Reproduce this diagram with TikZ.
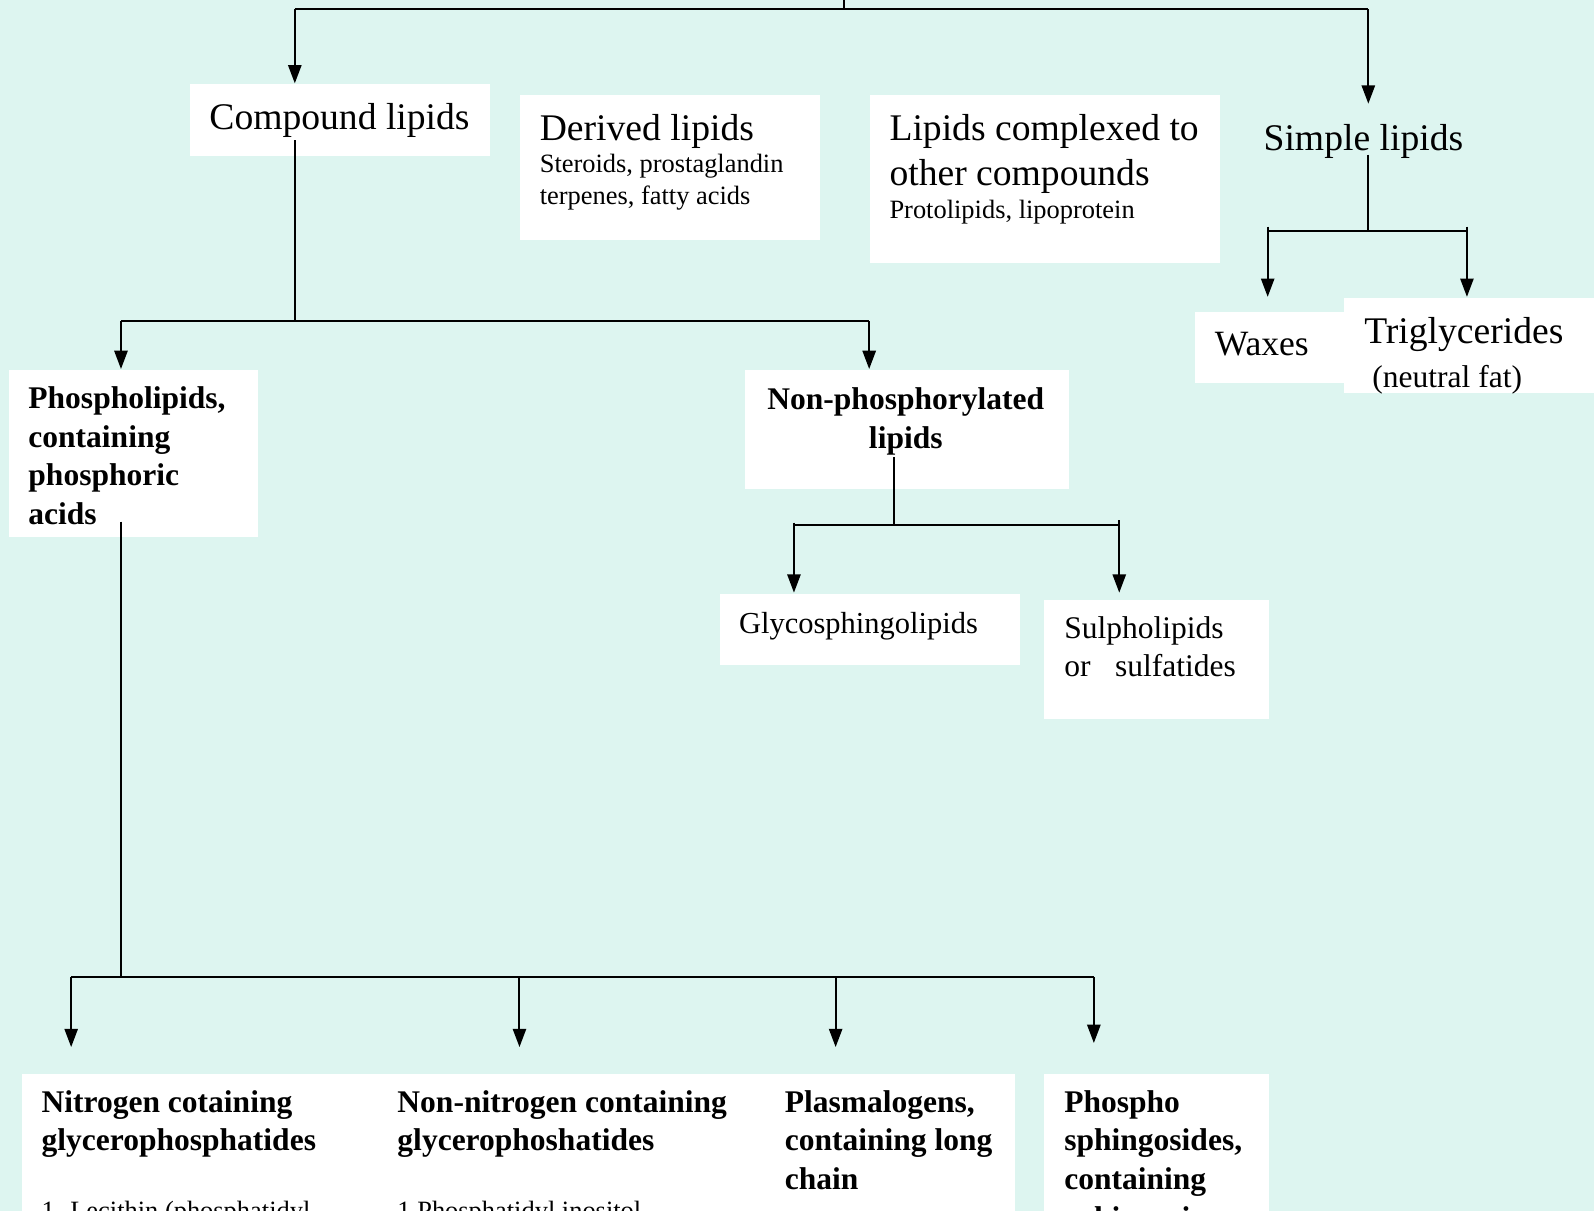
\documentclass[tikz,border=0pt]{standalone}
\usepackage{fontspec}
\setmainfont{Liberation Serif}
\usetikzlibrary{arrows.meta}
\definecolor{bgcyan}{RGB}{221,245,240}

\begin{document}
\begin{tikzpicture}[x=1pt, y=-1pt, line width=2pt,
  box/.style={fill=white, inner sep=0pt, anchor=north west},
  txt/.style={inner sep=0pt, anchor=base west, align=left},
  bigtxt/.style={txt, font=\fontsize{37}{44}\selectfont},
  smalltxt/.style={txt, font=\fontsize{26}{31}\selectfont},
  midtxt/.style={txt, font=\fontsize{31}{37}\selectfont},
  boldtxt/.style={txt, font=\fontsize{31}{38}\selectfont\bfseries},
  arr/.style={-{Triangle[length=18pt, width=13pt]}}]
  \useasboundingbox (0,0) rectangle (1568,1191);
  \fill[bgcyan] (0,0) rectangle (1568,1191);

  % boxes
  \node[box, minimum width=295pt, minimum height=70pt] (compound) at (186,82) {};
  \node[box, minimum width=295pt, minimum height=143pt] (derived) at (511,92) {};
  \node[box, minimum width=344pt, minimum height=166pt] (complexed) at (855,92) {};
  \node[box, minimum width=148pt, minimum height=70pt] (waxes) at (1174,306) {};
  \node[box, minimum width=246pt, minimum height=94pt] (trigly) at (1321,292) {};
  \node[box, minimum width=245pt, minimum height=164pt] (phospho) at (8,363) {};
  \node[box, minimum width=319pt, minimum height=117pt] (nonphos) at (732,363) {};
  \node[box, minimum width=295pt, minimum height=70pt] (glyco) at (707,583) {};
  \node[box, minimum width=221pt, minimum height=117pt] (sulpho) at (1026,589) {};
  \node[box, minimum width=976pt, minimum height=160pt] (glycero) at (21,1055) {};
  \node[box, minimum width=221pt, minimum height=160pt] (sphingo) at (1026,1055) {};

  % texts (base = last line)
  \node[bigtxt] (compoundtxt) at (205,127) {Compound lipids};
  \node[bigtxt] (derivedtxt) at (530,138) {Derived lipids};
  \node[smalltxt] (derivednote) at (530,201) {Steroids, prostaglandin\\terpenes, fatty acids};
  \node[bigtxt] (complexedtxt) at (874,182) {Lipids complexed to\\other compounds};
  \node[smalltxt] (complexednote) at (874,215) {Protolipids, lipoprotein};
  \node[bigtxt] (simpletxt) at (1242,148) {Simple lipids};
  \node[bigtxt, font=\fontsize{35}{42}\selectfont] (waxestxt) at (1194,350) {Waxes};
  \node[bigtxt] (triglytxt) at (1341,338) {Triglycerides};
  \node[midtxt] (neutraltxt) at (1349,381) {(neutral fat)};
  \node[boldtxt] (phosphotxt) at (27,516) {Phospholipids,\\containing\\phosphoric\\acids};
  \node[boldtxt, anchor=base, align=center] (nonphostxt) at (891,441) {Non-phosphorylated\\lipids};
  \node[midtxt, font=\fontsize{30}{37}\selectfont] (glycotxt) at (726,623) {Glycosphingolipids};
  \node[midtxt] (sulphotxt) at (1046,665) {Sulpholipids\\or\hspace{24pt}sulfatides};
  \node[boldtxt] (nitrotxt) at (40,1132) {Nitrogen cotaining\\glycerophosphatides};
  \node[boldtxt] (nonnitrotxt) at (390,1132) {Non-nitrogen containing\\glycerophoshatides};
  \node[boldtxt] (plasmatxt) at (771,1170) {Plasmalogens,\\containing long\\chain};
  \node[boldtxt] (sphingotxt) at (1046,1208) {Phospho\\sphingosides,\\containing\\sphingosine};
  \node[smalltxt] (lecithintxt) at (40,1200) {1. Lecithin (phosphatidyl};
  \node[smalltxt] (inositoltxt) at (390,1200) {1.Phosphatidyl inositol};

  % junctions
  \coordinate (root) at (830,-2);
  \coordinate (rootjoin) at (830,9);
  \coordinate (topleft) at (290,9);
  \coordinate (topright) at (1346,9);
  \coordinate (simplein) at (1346,102);
  \coordinate (compoundout) at (290,138);
  \coordinate (compounddown) at (290,316);
  \coordinate (phosjoin) at (119,316);
  \coordinate (nonphosjoin) at (855,316);
  \coordinate (simpleout) at (1346,152);
  \coordinate (simpledown) at (1346,227);
  \coordinate (waxesjoin) at (1247,227);
  \coordinate (triglyjoin) at (1443,227);
  \coordinate (nonphosout) at (879,450);
  \coordinate (nonphosdown) at (879,516);
  \coordinate (glycojoin) at (781,516);
  \coordinate (sulphojoin) at (1101,516);
  \coordinate (phosout) at (119,513);
  \coordinate (phosdown) at (119,961);
  \coordinate (nitrojoin) at (70,961);
  \coordinate (nonnitrojoin) at (511,961);
  \coordinate (plasmajoin) at (822,961);
  \coordinate (sphingojoin) at (1076,961);
  \coordinate (bottomtips) at (0,1030);

  % connectors
  \draw (root) -- (rootjoin);
  \draw (topleft) -- (topright);
  \draw[arr] (topleft) -- (topleft |- compound.north) ;
  \draw[arr] (topright) -- (simplein);
  \draw (compoundout) -- (compounddown);
  \draw (phosjoin) -- (nonphosjoin);
  \draw[arr] (phosjoin) -- (phosjoin |- phospho.north);
  \draw[arr] (nonphosjoin) -- (nonphosjoin |- nonphos.north);
  \draw (simpleout) -- (simpledown);
  \draw (waxesjoin) -- (triglyjoin);
  \draw[arr] ([yshift=4pt]waxesjoin) -- (waxesjoin |- trigly.north);
  \draw[arr] ([yshift=4pt]triglyjoin) -- (triglyjoin |- trigly.north);
  \draw (nonphosout) -- (nonphosdown);
  \draw (glycojoin) -- (sulphojoin);
  \draw[arr] ([yshift=2pt]glycojoin) -- (glycojoin |- glyco.north);
  \draw[arr] ([yshift=4pt]sulphojoin) -- (sulphojoin |- glyco.north);
  \draw (phosout) -- (phosdown);
  \draw (nitrojoin) -- (sphingojoin);
  \foreach \j in {nitrojoin, nonnitrojoin, plasmajoin}
    \draw[arr] (\j) -- (\j |- bottomtips);
  \draw[arr] (sphingojoin) -- ([yshift=4pt]sphingojoin |- bottomtips);
\end{tikzpicture}
\end{document}
